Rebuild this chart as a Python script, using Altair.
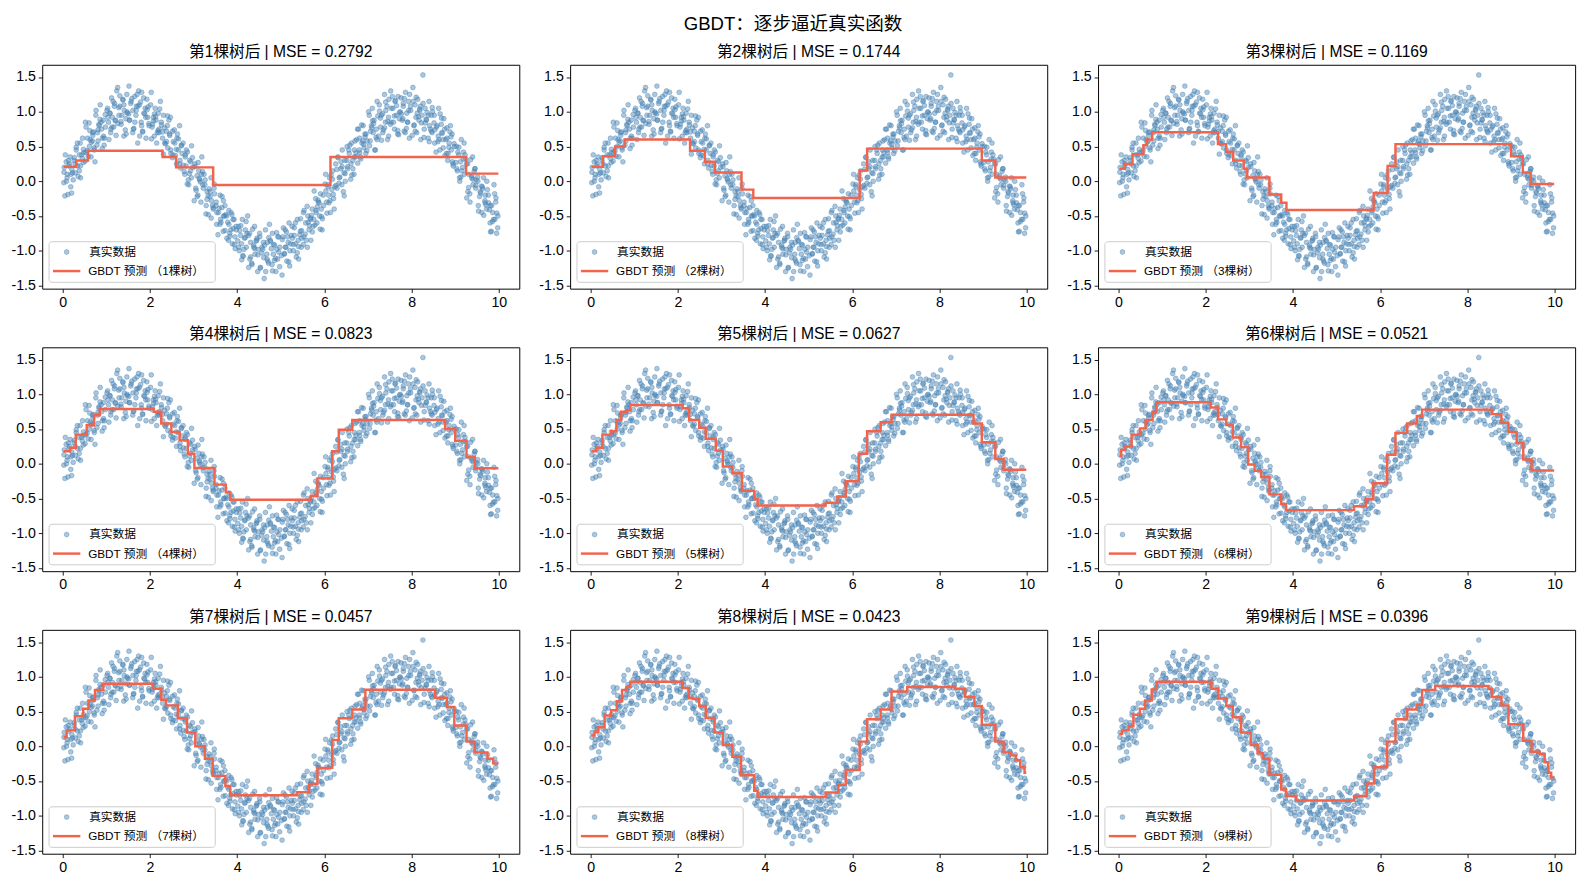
import altair as alt
import pandas as pd

# ---------------- data ----------------
X_PTS = [
    0.03,0.05,0.08,0.10,0.12,0.14,0.17,0.19,0.21,0.24, 0.035,0.085,0.13,0.185,0.225,
    0.26,0.29,0.31,0.34,0.38,0.40,0.41,0.45,0.47,0.48, 0.285,0.335,0.38,0.435,0.475,
    0.52,0.53,0.57,0.61,0.62,0.65,0.68,0.69,0.72,0.74, 0.535,0.585,0.63,0.685,0.725,
    0.76,0.80,0.81,0.83,0.86,0.89,0.91,0.93,0.95,0.98, 0.785,0.835,0.88,0.935,0.975,
    1.03,1.05,1.08,1.10,1.12,1.14,1.17,1.19,1.21,1.24, 1.035,1.085,1.13,1.185,1.225,
    1.26,1.29,1.31,1.34,1.38,1.40,1.41,1.45,1.47,1.48, 1.285,1.335,1.38,1.435,1.475,
    1.52,1.53,1.57,1.61,1.62,1.65,1.68,1.69,1.72,1.74, 1.535,1.585,1.63,1.685,1.725,
    1.76,1.80,1.81,1.83,1.86,1.89,1.91,1.93,1.95,1.98, 1.785,1.835,1.88,1.935,1.975,
    2.03,2.05,2.08,2.10,2.12,2.14,2.17,2.19,2.21,2.24, 2.035,2.085,2.13,2.185,2.225,
    2.26,2.29,2.31,2.34,2.38,2.40,2.41,2.45,2.47,2.48, 2.285,2.335,2.38,2.435,2.475,
    2.52,2.53,2.57,2.61,2.62,2.65,2.68,2.69,2.72,2.74, 2.535,2.585,2.63,2.685,2.725,
    2.76,2.80,2.81,2.83,2.86,2.89,2.91,2.93,2.95,2.98, 2.785,2.835,2.88,2.935,2.975,
    3.03,3.05,3.08,3.10,3.12,3.14,3.17,3.19,3.21,3.24, 3.035,3.085,3.13,3.185,3.225,
    3.26,3.29,3.31,3.34,3.38,3.40,3.41,3.45,3.47,3.48, 3.285,3.335,3.38,3.435,3.475,
    3.52,3.53,3.57,3.61,3.62,3.65,3.68,3.69,3.72,3.74, 3.535,3.585,3.63,3.685,3.725,
    3.76,3.80,3.81,3.83,3.86,3.89,3.91,3.93,3.95,3.98, 3.785,3.835,3.88,3.935,3.975,
    4.03,4.05,4.08,4.10,4.12,4.14,4.17,4.19,4.21,4.24, 4.035,4.085,4.13,4.185,4.225,
    4.26,4.29,4.31,4.34,4.38,4.40,4.41,4.45,4.47,4.48, 4.285,4.335,4.38,4.435,4.475,
    4.52,4.53,4.57,4.61,4.62,4.65,4.68,4.69,4.72,4.74, 4.535,4.585,4.63,4.685,4.725,
    4.76,4.80,4.81,4.83,4.86,4.89,4.91,4.93,4.95,4.98, 4.785,4.835,4.88,4.935,4.975,
    5.03,5.05,5.08,5.10,5.12,5.14,5.17,5.19,5.21,5.24, 5.035,5.085,5.13,5.185,5.225,
    5.26,5.29,5.31,5.34,5.38,5.40,5.41,5.45,5.47,5.48, 5.285,5.335,5.38,5.435,5.475,
    5.52,5.53,5.57,5.61,5.62,5.65,5.68,5.69,5.72,5.74, 5.535,5.585,5.63,5.685,5.725,
    5.76,5.80,5.81,5.83,5.86,5.89,5.91,5.93,5.95,5.98, 5.785,5.835,5.88,5.935,5.975,
    6.03,6.05,6.08,6.10,6.12,6.14,6.17,6.19,6.21,6.24, 6.035,6.085,6.13,6.185,6.225,
    6.26,6.29,6.31,6.34,6.38,6.40,6.41,6.45,6.47,6.48, 6.285,6.335,6.38,6.435,6.475,
    6.52,6.53,6.57,6.61,6.62,6.65,6.68,6.69,6.72,6.74, 6.535,6.585,6.63,6.685,6.725,
    6.76,6.80,6.81,6.83,6.86,6.89,6.91,6.93,6.95,6.98, 6.785,6.835,6.88,6.935,6.975,
    7.03,7.05,7.08,7.10,7.12,7.14,7.17,7.19,7.21,7.24, 7.035,7.085,7.13,7.185,7.225,
    7.26,7.29,7.31,7.34,7.38,7.40,7.41,7.45,7.47,7.48, 7.285,7.335,7.38,7.435,7.475,
    7.52,7.53,7.57,7.61,7.62,7.65,7.68,7.69,7.72,7.74, 7.535,7.585,7.63,7.685,7.725,
    7.76,7.80,7.81,7.83,7.86,7.89,7.91,7.93,7.95,7.98, 7.785,7.835,7.88,7.935,7.975,
    8.03,8.05,8.08,8.10,8.12,8.14,8.17,8.19,8.21,8.24, 8.035,8.085,8.13,8.185,8.225,
    8.26,8.29,8.31,8.34,8.38,8.40,8.41,8.45,8.47,8.48, 8.285,8.335,8.38,8.435,8.475,
    8.52,8.53,8.57,8.61,8.62,8.65,8.68,8.69,8.72,8.74, 8.535,8.585,8.63,8.685,8.725,
    8.76,8.80,8.81,8.83,8.86,8.89,8.91,8.93,8.95,8.98, 8.785,8.835,8.88,8.935,8.975,
    9.03,9.05,9.08,9.10,9.12,9.14,9.17,9.19,9.21,9.24, 9.035,9.085,9.13,9.185,9.225,
    9.26,9.29,9.31,9.34,9.38,9.40,9.41,9.45,9.47,9.48, 9.285,9.335,9.38,9.435,9.475,
    9.52,9.53,9.57,9.61,9.62,9.65,9.68,9.69,9.72,9.74, 9.535,9.585,9.63,9.685,9.725,
    9.76,9.80,9.81,9.83,9.86,9.89,9.91,9.93,9.95,9.98, 9.785,9.835,9.88,9.935,9.975,
]
Y_PTS = [
    0.13,-0.21,0.28,0.05,-0.19,0.22,0.35,0.10,0.17,0.02, 0.20,0.00,0.30,-0.08,0.12,
    0.30,0.12,0.45,0.22,0.38,0.55,0.05,0.33,0.27,0.41, 0.25,0.55,0.15,0.38,0.46,
    0.85,0.42,0.62,0.50,0.73,0.35,0.58,0.66,0.48,0.28, 0.78,0.36,0.60,0.70,0.45,
    0.95,0.70,0.58,0.82,1.10,0.75,0.62,0.88,0.52,0.78, 0.52,0.80,0.85,0.65,0.96,
    1.05,0.85,0.98,0.70,1.20,0.92,0.78,1.12,0.88,1.30, 0.92,0.98,0.78,1.08,0.66,
    1.35,0.95,1.08,0.82,1.18,0.65,1.02,0.90,1.25,0.98, 1.06,0.86,1.17,0.74,1.00,
    1.37,0.88,1.15,1.02,0.75,1.22,0.95,1.08,0.55,1.30, 0.88,1.19,0.76,1.02,1.08,
    1.10,0.85,1.28,0.72,0.98,1.05,0.62,1.18,0.92,0.80, 1.14,0.71,0.97,1.03,0.83,
    1.28,0.78,0.92,0.65,1.05,0.88,0.70,0.98,0.75,1.15, 0.61,0.87,0.93,0.73,1.04,
    0.85,0.62,0.95,0.55,0.72,0.80,0.48,0.68,0.92,0.40, 0.71,0.77,0.57,0.88,0.45,
    0.72,0.38,0.55,0.25,0.62,0.45,0.80,0.30,0.52,0.40, 0.57,0.37,0.68,0.25,0.51,
    0.55,0.10,0.35,0.22,0.42,-0.05,0.30,0.15,0.05,0.20, 0.14,0.45,0.02,0.28,0.34,
    0.25,-0.10,0.08,-0.20,0.15,0.02,-0.30,0.35,-0.05,0.10, 0.21,-0.22,0.04,0.10,-0.10,
    -0.05,-0.35,-0.15,-0.48,-0.22,0.05,-0.28,-0.40,-0.10,-0.18, -0.47,-0.21,-0.15,-0.35,-0.04,
    -0.30,-0.62,-0.45,-0.20,-0.55,-0.38,-0.72,-0.50,-0.35,-0.48, -0.45,-0.39,-0.59,-0.28,-0.71,
    -0.50,-0.85,-0.62,-0.75,-0.45,-0.90,-0.68,-0.55,-0.80,-0.70, -0.59,-0.79,-0.48,-0.91,-0.65,
    -0.65,-1.00,-0.78,-0.90,-0.55,-1.08,-0.82,-0.70,-0.95,-0.50, -0.95,-0.64,-1.07,-0.81,-0.75,
    -0.78,-1.12,-0.88,-1.20,-0.95,-0.65,-1.05,-0.85,-1.30,-0.98, -0.75,-1.18,-0.92,-0.86,-1.06,
    -0.80,-1.25,-0.95,-1.10,-1.40,-0.70,-1.05,-0.88,-1.18,-0.62, -1.24,-0.98,-0.92,-1.12,-0.81,
    -0.85,-1.20,-0.75,-1.05,-0.92,-1.30,-0.98,-1.12,-0.80,-0.95, -0.97,-0.91,-1.11,-0.80,-1.23,
    -1.35,-0.80,-1.05,-0.70,-0.95,-1.15,-0.88,-0.60,-1.00,-0.78, -0.84,-1.04,-0.73,-1.16,-0.90,
    -0.65,-1.00,-0.78,-0.90,-0.55,-0.85,-1.12,-0.72,-0.95,-0.82, -0.91,-0.60,-1.03,-0.77,-0.71,
    -0.45,-0.80,-0.60,-0.95,-0.50,-0.70,-0.55,-0.85,-0.40,-0.65, -0.42,-0.85,-0.59,-0.53,-0.73,
    -0.55,-0.25,-0.45,-0.60,-0.30,-0.50,-0.18,-0.40,-0.70,-0.35, -0.63,-0.37,-0.31,-0.51,-0.20,
    0.10,-0.30,-0.05,-0.20,0.05,-0.45,-0.12,0.15,-0.25,-0.08, -0.14,-0.08,-0.28,0.03,-0.40,
    0.25,-0.10,0.35,0.05,0.18,-0.05,0.45,0.12,0.30,0.00, 0.17,-0.03,0.28,-0.15,0.11,
    0.50,0.18,0.40,0.25,0.55,0.30,0.10,0.45,0.35,0.60, 0.21,0.52,0.09,0.35,0.41,
    0.75,0.45,0.62,0.35,0.55,0.80,0.48,0.68,0.40,0.58, 0.75,0.32,0.58,0.64,0.44,
    0.95,0.58,0.80,1.05,0.70,0.88,0.45,0.75,1.15,0.65, 0.51,0.77,0.83,0.63,0.94,
    1.10,0.78,0.95,0.70,1.25,0.85,1.02,0.60,0.92,1.18, 0.91,0.97,0.77,1.08,0.65,
    1.30,0.85,1.05,0.75,1.15,0.95,0.68,1.22,0.90,1.00, 1.05,0.85,1.16,0.73,0.99,
    1.20,0.90,1.08,0.72,1.28,0.98,0.85,1.15,0.62,1.02, 0.88,1.19,0.76,1.02,1.08,
    1.35,0.80,1.10,0.92,0.70,1.18,0.88,1.02,0.60,0.95, 1.15,0.72,0.98,1.04,0.84,
    1.53,0.75,1.05,0.88,0.62,1.15,0.80,0.95,0.70,1.00, 0.63,0.89,0.95,0.75,1.06,
    0.95,0.55,0.78,0.65,1.05,0.45,0.82,0.70,0.60,0.90, 0.74,0.80,0.60,0.91,0.48,
    0.75,0.40,0.62,0.30,0.55,0.80,0.45,0.68,0.25,0.50, 0.60,0.40,0.71,0.28,0.54,
    0.50,0.15,0.38,0.05,0.28,0.60,0.20,0.42,0.10,0.32, 0.18,0.49,0.06,0.32,0.38,
    0.25,-0.15,0.10,-0.30,0.05,0.35,-0.05,0.18,-0.10,0.02, 0.25,-0.18,0.08,0.14,-0.06,
    0.00,-0.35,-0.15,-0.45,-0.08,0.05,-0.28,-0.20,-0.40,-0.12, -0.43,-0.17,-0.11,-0.31,0.00,
    -0.20,-0.60,-0.35,-0.72,-0.45,-0.05,-0.55,-0.30,-0.75,-0.50, -0.41,-0.35,-0.55,-0.24,-0.67,
]
X_PTS_2 = [
    0.025,0.06,0.105,0.155,0.205, 0.265,0.31,0.355,0.405,0.455,
    0.515,0.56,0.605,0.655,0.705, 0.765,0.81,0.855,0.905,0.955,
    1.015,1.06,1.105,1.155,1.205, 1.265,1.31,1.355,1.405,1.455,
    1.515,1.56,1.605,1.655,1.705, 1.765,1.81,1.855,1.905,1.955,
    2.015,2.06,2.105,2.155,2.205, 2.265,2.31,2.355,2.405,2.455,
    2.515,2.56,2.605,2.655,2.705, 2.765,2.81,2.855,2.905,2.955,
    3.015,3.06,3.105,3.155,3.205, 3.265,3.31,3.355,3.405,3.455,
    3.515,3.56,3.605,3.655,3.705, 3.765,3.81,3.855,3.905,3.955,
    4.015,4.06,4.105,4.155,4.205, 4.265,4.31,4.355,4.405,4.455,
    4.515,4.56,4.605,4.655,4.705, 4.765,4.81,4.855,4.905,4.955,
    5.015,5.06,5.105,5.155,5.205, 5.265,5.31,5.355,5.405,5.455,
    5.515,5.56,5.605,5.655,5.705, 5.765,5.81,5.855,5.905,5.955,
    6.015,6.06,6.105,6.155,6.205, 6.265,6.31,6.355,6.405,6.455,
    6.515,6.56,6.605,6.655,6.705, 6.765,6.81,6.855,6.905,6.955,
    7.015,7.06,7.105,7.155,7.205, 7.265,7.31,7.355,7.405,7.455,
    7.515,7.56,7.605,7.655,7.705, 7.765,7.81,7.855,7.905,7.955,
    8.015,8.06,8.105,8.155,8.205, 8.265,8.31,8.355,8.405,8.455,
    8.515,8.56,8.605,8.655,8.705, 8.765,8.81,8.855,8.905,8.955,
    9.015,9.06,9.105,9.155,9.205, 9.265,9.31,9.355,9.405,9.455,
    9.515,9.56,9.605,9.655,9.705, 9.765,9.81,9.855,9.905,9.955,
]
Y_PTS_2 = [
    -0.02,0.38,0.10,0.25,-0.17, 0.34,0.49,0.07,0.22,0.62,
    0.29,0.44,0.84,0.56,0.71, 1.02,0.74,0.89,0.47,0.62,
    1.02,0.60,0.75,1.15,0.87, 0.83,1.23,0.95,1.10,0.68,
    0.97,1.12,0.70,0.85,1.25, 0.65,0.80,1.20,0.92,1.07,
    1.10,0.82,0.97,0.55,0.70, 0.81,0.39,0.54,0.94,0.66,
    0.34,0.74,0.46,0.61,0.19, 0.23,0.38,-0.04,0.11,0.51,
    -0.28,-0.13,0.27,-0.01,0.14, 0.02,-0.26,-0.11,-0.53,-0.38,
    -0.35,-0.77,-0.62,-0.22,-0.50, -0.82,-0.42,-0.70,-0.55,-0.97,
    -0.86,-0.71,-1.13,-0.98,-0.58, -1.24,-1.09,-0.69,-0.97,-0.82,
    -0.75,-1.03,-0.88,-1.30,-1.15, -0.87,-1.29,-1.14,-0.74,-1.02,
    -1.07,-0.67,-0.95,-0.80,-1.22, -0.82,-0.67,-1.09,-0.94,-0.54,
    -0.91,-0.76,-0.36,-0.64,-0.49, -0.14,-0.42,-0.27,-0.69,-0.54,
    -0.04,-0.46,-0.31,0.09,-0.19, -0.06,0.34,0.06,0.21,-0.21,
    0.30,0.45,0.03,0.18,0.58, 0.26,0.41,0.81,0.53,0.68,
    1.00,0.72,0.87,0.45,0.60, 1.01,0.59,0.74,1.14,0.86,
    0.82,1.22,0.94,1.09,0.67, 0.97,1.12,0.70,0.85,1.25,
    0.66,0.81,1.21,0.93,1.08, 1.12,0.84,0.99,0.57,0.72,
    0.84,0.42,0.57,0.97,0.69, 0.37,0.77,0.49,0.64,0.22,
    0.27,0.42,0.00,0.15,0.55, -0.24,-0.09,0.31,0.03,0.18,
    0.06,-0.22,-0.07,-0.49,-0.34, -0.31,-0.73,-0.58,-0.18,-0.46,
]

# step prediction of each stage: edges (n+1) and levels (n)
EDGES_1 = [0.02, 0.31, 0.58, 2.29, 2.60, 3.45, 6.14, 9.25, 9.99]
LEVELS_1 = [0.21, 0.30, 0.44, 0.35, 0.20, -0.053, 0.35, 0.11]

EDGES_2 = [0.02, 0.28, 0.56, 0.78, 2.28, 2.62, 2.85, 3.46, 3.73, 6.17, 6.34, 8.97, 9.28, 9.99]
LEVELS_2 = [0.207, 0.36, 0.50, 0.60, 0.44, 0.28, 0.125, -0.12, -0.24, 0.154, 0.47, 0.30, 0.053]

EDGES_3 = [0.02, 0.14, 0.32, 0.57, 0.65, 0.77, 2.28, 2.47, 2.63, 2.87, 2.95, 3.46, 3.73,
           3.85, 5.85, 6.17, 6.35, 9.0, 9.27, 9.45, 9.99]
LEVELS_3 = [0.18, 0.25, 0.39, 0.52, 0.60, 0.705, 0.535, 0.425, 0.30, 0.18, 0.053, -0.19,
            -0.31, -0.415, -0.17, 0.22, 0.535, 0.36, 0.125, -0.04]

EDGES_4 = [0.02, 0.17, 0.30, 0.55, 0.72, 0.85, 2.09, 2.26, 2.49, 2.68, 2.87, 3.02, 3.48,
           3.74, 3.84, 5.69, 5.84, 6.18, 6.33, 6.64, 8.77, 9.0, 9.26, 9.45, 9.99]
LEVELS_4 = [0.18, 0.23, 0.42, 0.556, 0.70, 0.79, 0.75, 0.58, 0.46, 0.34, 0.145, -0.06,
            -0.30, -0.41, -0.517, -0.46, -0.21, 0.18, 0.49, 0.63, 0.50, 0.33, 0.097, -0.063]

EDGES_5 = [0.02, 0.13, 0.27, 0.47, 0.59, 0.70, 0.82, 0.91, 2.11, 2.26, 2.49, 2.64, 2.87,
           3.03, 3.25, 3.47, 3.75, 3.83, 5.39, 5.66, 5.85, 6.15, 6.34, 6.65, 6.90, 8.78,
           8.97, 9.28, 9.47, 9.99]
LEVELS_5 = [0.18, 0.23, 0.42, 0.47, 0.63, 0.75, 0.77, 0.845, 0.80, 0.63, 0.52, 0.36, 0.19,
            -0.04, -0.135, -0.39, -0.51, -0.60, -0.56, -0.47, -0.25, 0.145, 0.47, 0.60,
            0.705, 0.58, 0.31, 0.07, -0.087]

EDGES_6 = [0.02, 0.06, 0.15, 0.30, 0.49, 0.62, 0.78, 0.87, 2.11, 2.28, 2.47, 2.62, 2.81,
           2.97, 3.12, 3.27, 3.46, 3.73, 3.84, 5.40, 5.67, 5.84, 6.16, 6.35, 6.62, 6.84,
           6.96, 8.56, 8.78, 8.94, 9.13, 9.28, 9.47, 9.99]
LEVELS_6 = [0.11, 0.20, 0.25, 0.42, 0.51, 0.63, 0.75, 0.885, 0.81, 0.64, 0.56, 0.38, 0.24,
            -0.01, -0.10, -0.19, -0.44, -0.58, -0.667, -0.61, -0.51, -0.28, 0.13, 0.445,
            0.58, 0.69, 0.78, 0.715, 0.59, 0.46, 0.30, 0.063, -0.097]

EDGES_7 = [0.02, 0.09, 0.28, 0.47, 0.59, 0.74, 0.93, 2.07, 2.26, 2.37, 2.64, 2.85, 3.04,
           3.26, 3.44, 3.73, 3.84, 5.38, 5.65, 5.84, 6.18, 6.33, 6.64, 6.94, 8.54, 8.81,
           8.98, 9.26, 9.45, 9.74, 9.87, 9.99]
LEVELS_7 = [0.13, 0.23, 0.435, 0.54, 0.66, 0.81, 0.90, 0.83, 0.67, 0.59, 0.405, 0.20, 0.0,
            -0.18, -0.425, -0.57, -0.705, -0.66, -0.54, -0.31, 0.09, 0.405, 0.53, 0.815,
            0.70, 0.565, 0.30, 0.068, -0.087, -0.18, -0.245]

EDGES_8 = [0.02, 0.09, 0.17, 0.32, 0.47, 0.60, 0.72, 0.82, 0.91, 2.10, 2.25, 2.34, 2.49,
           2.64, 2.84, 3.03, 3.25, 3.45, 3.75, 3.83, 5.39, 5.68, 5.85, 6.17, 6.34, 6.65,
           6.90, 7.26, 8.36, 8.59, 8.80, 8.97, 9.28, 9.47, 9.64, 9.75, 9.85, 9.95, 9.99]
LEVELS_8 = [0.155, 0.21, 0.275, 0.445, 0.52, 0.65, 0.81, 0.855, 0.93, 0.84, 0.70, 0.68,
            0.58, 0.41, 0.20, 0.02, -0.15, -0.415, -0.64, -0.73, -0.665, -0.555, -0.34,
            0.068, 0.39, 0.53, 0.79, 0.855, 0.83, 0.71, 0.58, 0.31, 0.068, -0.087, -0.13,
            -0.20, -0.30, -0.38]

EDGES_9 = [0.02, 0.08, 0.23, 0.34, 0.49, 0.61, 0.76, 0.87, 2.13, 2.28, 2.47, 2.62, 2.81,
           3.03, 3.19, 3.31, 3.46, 3.73, 3.84, 4.07, 5.40, 5.69, 5.86, 6.16, 6.35, 6.62,
           6.84, 6.96, 7.26, 8.48, 8.56, 8.78, 8.94, 9.28, 9.47, 9.66, 9.77, 9.85, 9.92, 9.99]
LEVELS_9 = [0.18, 0.23, 0.29, 0.455, 0.54, 0.66, 0.82, 0.93, 0.83, 0.69, 0.58, 0.42, 0.20,
            0.02, -0.10, -0.18, -0.41, -0.62, -0.715, -0.78, -0.715, -0.535, -0.30, 0.068,
            0.39, 0.53, 0.60, 0.81, 0.87, 0.83, 0.71, 0.59, 0.32, 0.08, -0.077, -0.11,
            -0.23, -0.38, -0.45]

MSE = ["0.2792", "0.1744", "0.1169", "0.0823", "0.0627", "0.0521", "0.0457", "0.0423", "0.0396"]
SUPTITLE = "GBDT：逐步逼近真实函数"
LEGEND_POINTS = "真实数据"
X_TICKS = [0, 2, 4, 6, 8, 10]
Y_TICKS = [-1.5, -1.0, -0.5, 0.0, 0.5, 1.0, 1.5]

EDGES = [EDGES_1, EDGES_2, EDGES_3, EDGES_4, EDGES_5, EDGES_6, EDGES_7, EDGES_8, EDGES_9]
LEVELS = [LEVELS_1, LEVELS_2, LEVELS_3, LEVELS_4, LEVELS_5, LEVELS_6, LEVELS_7, LEVELS_8, LEVELS_9]

# ---------------- styling ----------------
FONT = "Liberation Sans, Arial, Noto Sans CJK SC, sans-serif"
BLUE = "#4682b4"
RED = "#f2634c"
W, H = 488, 229
XDOM = [-0.47, 10.47]
YDOM = [-1.546, 1.677]

pts_df = pd.DataFrame({"x": X_PTS + X_PTS_2, "y": Y_PTS + Y_PTS_2})
one_df = pd.DataFrame({"a": [0]})


def step_frame(edges, levels):
    xs = list(edges)
    ys = list(levels) + [levels[-1]]
    return pd.DataFrame({"x": xs, "y": ys})


X_AXIS = alt.Axis(values=X_TICKS, format="d", title=None, labelOverlap=False)
Y_AXIS = alt.Axis(values=Y_TICKS, title=None, labelOverlap=False,
                  labelExpr="replace(format(datum.value, '.1f'), '\u2212', '-')")


def xenc():
    return alt.X("x:Q", scale=alt.Scale(domain=XDOM, nice=False, zero=False), axis=X_AXIS)


def yenc():
    return alt.Y("y:Q", scale=alt.Scale(domain=YDOM, nice=False, zero=False), axis=Y_AXIS)


def panel(i):
    pts = alt.Chart(pts_df).mark_circle(
        size=24, fill=BLUE, fillOpacity=0.45, stroke=BLUE, strokeOpacity=0.6, strokeWidth=0.7
    ).encode(x=xenc(), y=yenc())
    line = alt.Chart(step_frame(EDGES[i], LEVELS[i])).mark_line(
        interpolate="step-after", color=RED, strokeWidth=2.5
    ).encode(x=xenc(), y=yenc())

    box = alt.Chart(one_df).mark_rect(
        fill="white", fillOpacity=0.8, stroke="#cccccc", strokeWidth=1, cornerRadius=3
    ).encode(x=alt.value(7), x2=alt.value(177), y=alt.value(H - 48), y2=alt.value(H - 6.5))
    lp = alt.Chart(one_df).mark_circle(
        size=24, fill=BLUE, fillOpacity=0.45, stroke=BLUE, strokeOpacity=0.6, strokeWidth=0.7
    ).encode(x=alt.value(25), y=alt.value(H - 37.5))
    ll = alt.Chart(one_df).mark_rule(color=RED, strokeWidth=2.5).encode(
        x=alt.value(11), x2=alt.value(39), y=alt.value(H - 18))
    t1 = alt.Chart(one_df).mark_text(
        align="left", baseline="middle", fontSize=12, color="black", font=FONT
    ).encode(x=alt.value(48), y=alt.value(H - 37.5), text=alt.value(LEGEND_POINTS))
    t2 = alt.Chart(one_df).mark_text(
        align="left", baseline="middle", fontSize=12, color="black", font=FONT
    ).encode(x=alt.value(47), y=alt.value(H - 18), text=alt.value(f"GBDT 预测 （{i + 1}棵树）"))

    return alt.layer(pts, line, box, lp, ll, t1, t2).properties(
        width=W, height=H,
        title=alt.TitleParams(text=f"第{i + 1}棵树后 | MSE = {MSE[i]}", fontSize=16,
                              fontWeight="normal", font=FONT, color="black",
                              anchor="middle", offset=5),
    )


rows = [alt.hconcat(*[panel(3 * r + c) for c in range(3)], spacing=18) for r in range(3)]

chart = alt.vconcat(*rows, spacing=17).properties(
    title=alt.TitleParams(text=SUPTITLE, fontSize=19, fontWeight="normal", font=FONT,
                          color="black", anchor="middle", offset=10),
    padding={"left": 2, "top": -3, "right": 5, "bottom": 5},
).configure(font=FONT).configure_view(
    stroke="black", strokeWidth=1
).configure_axis(
    domain=False, grid=False, tickColor="black", tickSize=4, tickWidth=0.9,
    labelColor="black", labelFontSize=14.5, labelFont=FONT, labelPadding=3,
    labelOverlap=False,
)

chart.save("out.html", embed_options={"renderer": "svg", "actions": False})
